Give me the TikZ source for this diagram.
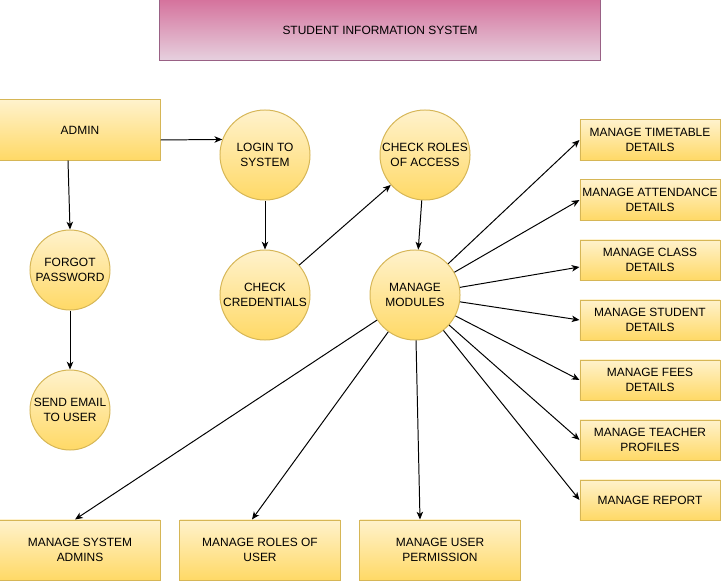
\documentclass[tikz,border=0pt]{standalone}
\usepackage{fontspec}
\setmainfont{Liberation Sans}
\usepackage{tikz}
\usetikzlibrary{arrows.meta,shapes.geometric,positioning}
\definecolor{boxtop}{HTML}{FFF2CC}
\definecolor{boxbottom}{HTML}{FFD966}
\definecolor{boxline}{HTML}{D6B656}
\definecolor{headtop}{HTML}{D5739D}
\definecolor{headbottom}{HTML}{E6D0DE}
\definecolor{headline}{HTML}{996185}

\begin{document}
\begin{tikzpicture}[
x=0.025cm, y=-0.025cm,
font=\fontsize{8.5}{10.6}\selectfont,
entity/.style={draw=boxline, top color=boxtop, bottom color=boxbottom, line width=0.7pt, align=center, inner sep=0pt, minimum width=4cm, minimum height=1.5cm},
detail/.style={entity, minimum width=3.5cm, minimum height=1cm},
process/.style={circle, draw=boxline, top color=boxtop, bottom color=boxbottom, line width=0.7pt, align=center, inner sep=0pt, minimum size=2.25cm},
smallprocess/.style={process, minimum size=2cm},
heading/.style={draw=headline, top color=headtop, bottom color=headbottom, line width=0.7pt, minimum width=11cm, minimum height=1.5cm},
link/.style={->, >={Stealth[length=5.5pt,width=4.6pt,inset=1.5pt]}, line width=0.7pt}
]
    \useasboundingbox (0,0) rectangle (721,582);

    % Title
    \node[heading] (title) at (380,30) {STUDENT INFORMATION SYSTEM};

    % Left part
    \node[entity] (admin) at (80,130) {ADMIN};
    \node[smallprocess] (forgot) at (70,270) {FORGOT\\PASSWORD};
    \node[smallprocess] (email) at (70,410) {SEND EMAIL\\TO USER};
    \node[process] (login) at (265,155) {LOGIN TO\\SYSTEM};
    \node[process] (cred) at (265,295) {CHECK\\CREDENTIALS};
    \node[process] (roles) at (425,155) {CHECK ROLES\\OF ACCESS};
    \node[process] (modules) at (415,295) {MANAGE\\MODULES};

    % Modules on the right
    \node[detail] (timetable) at (650,140) {MANAGE TIMETABLE\\DETAILS};
    \node[detail] (attendance) at (650,200) {MANAGE ATTENDANCE\\DETAILS};
    \node[detail] (class) at (650,260) {MANAGE CLASS\\DETAILS};
    \node[detail] (student) at (650,320) {MANAGE STUDENT\\DETAILS};
    \node[detail] (fees) at (650,380) {MANAGE FEES\\DETAILS};
    \node[detail] (teacher) at (650,440) {MANAGE TEACHER\\PROFILES};
    \node[detail] (report) at (650,500) {MANAGE REPORT};

    % Modules at the bottom
    \node[entity] (sysadmin) at (80,550) {MANAGE SYSTEM\\ADMINS};
    \node[entity] (userroles) at (260,550) {MANAGE ROLES OF\\USER};
    \node[entity] (permission) at (440,550) {MANAGE USER\\PERMISSION};

    % Flow
    \draw[link] ([yshift=-0.25cm]admin.east) -- (login.160);
    \draw[link] ([xshift=-0.3cm]admin.south) -- (forgot.north);
    \draw[link] (forgot) -- (email);
    \draw[link] (login) -- (cred);
    \draw[link] (cred) -- (roles);
    \draw[link] (roles) -- (modules);

    \draw[link] (modules) -- (timetable.west);
    \draw[link] (modules) -- (attendance.west);
    \draw[link] (modules) -- ([yshift=-0.175cm]class.west);
    \draw[link] (modules) -- (student.west);
    \draw[link] (modules) -- (fees.west);
    \draw[link] (modules) -- (teacher.west);
    \draw[link] (modules) -- (report.west);

    \draw[link] (modules) -- ([xshift=-0.125cm]sysadmin.north);
    \draw[link] (modules) -- ([xshift=-0.2cm]userroles.north);
    \draw[link] (modules) -- ([xshift=-0.5cm]permission.north);

\end{tikzpicture}
\end{document}
